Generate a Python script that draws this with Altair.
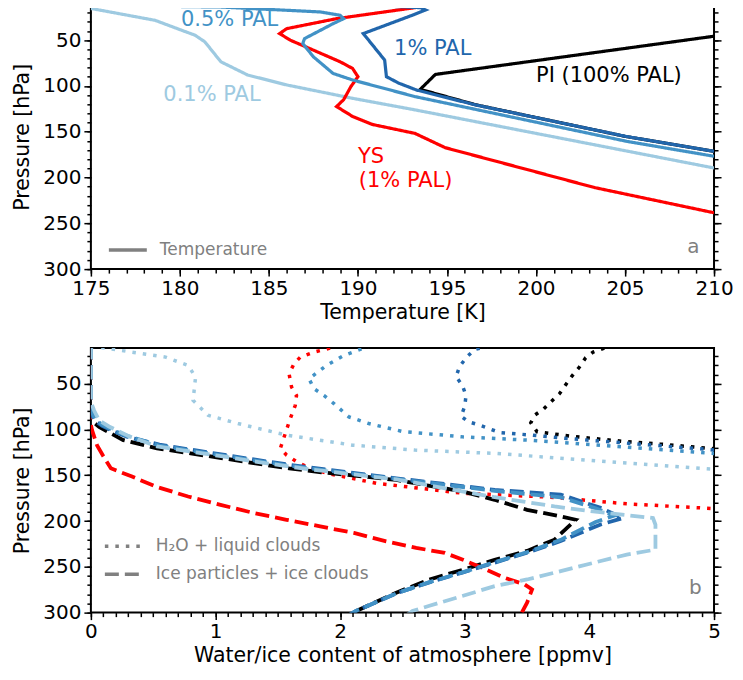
import altair as alt
import pandas as pd

FONT = "DejaVu Sans"
C_PI, C_YS, C_1, C_05, C_01 = "#000000", "#ff0000", "#2166ac", "#4292c6", "#9ecae1"
GRAY = "#808080"

# ---------------- Panel a: temperature profiles ----------------
pi_T = [212.0, 210.0, 194.35, 193.5, 196.6, 205.0, 210.0, 212.0]
pi_P = [42.0, 45.7, 87.4, 103.7, 120.5, 155.0, 171.4, 174.5]

ys_T = [190.5, 193.7, 193.2, 188.8, 186.0, 185.6, 186.2, 187.5, 189.0, 189.7, 190.0,
        189.6, 189.2, 188.8, 189.7, 190.8, 193.2, 194.9, 203.3, 210.0]
ys_P = [11.0, 12.8, 14.5, 26.5, 37.4, 42.8, 50.0, 60.9, 73.6, 80.9, 89.9,
        100.8, 114.9, 122.5, 133.3, 142.0, 151.8, 167.4, 211.0, 238.5]

p1_T = [189.5, 193.5, 193.8, 193.05, 190.3, 191.5, 191.6, 192.3, 193.3, 196.6, 205.05, 210.0]
p1_P = [11.0, 14.5, 17.0, 22.8, 42.8, 71.7, 89.9, 97.0, 104.5, 120.7, 155.1, 171.4]

p05_T = [170.0, 174.9, 182.3, 187.9, 189.0, 189.2, 188.6, 187.0, 186.9, 187.5, 188.6,
         189.7, 193.2, 205.1, 210.0]
p05_P = [11.0, 12.0, 13.8, 19.2, 22.8, 26.5, 32.0, 48.3, 53.7, 68.2, 86.3,
         93.5, 111.6, 160.5, 176.8]

p01_T = [172.5, 175.1, 178.6, 180.85, 181.4, 182.3, 183.8, 186.0, 189.7, 193.2, 210.0]
p01_P = [12.0, 15.7, 28.3, 44.6, 51.8, 73.6, 88.0, 98.9, 113.5, 126.1, 189.6]

ann_text = ["0.5% PAL", "1% PAL", "PI (100% PAL)", "0.1% PAL", "YS", "(1% PAL)"]
ann_T = [180.06, 192.03, 200.0, 179.07, 190.0, 190.05]
ann_P = [28.5, 60.0, 89.5, 109.5, 177.5, 204.0]
ann_col = [C_05, C_1, C_PI, C_01, C_YS, C_YS]

# ---------------- Panel b: water / ice content ----------------
# dotted: H2O + liquid clouds
h2o_pi_x = [4.2, 4.14, 4.03, 3.97, 3.92, 3.86, 3.81, 3.76, 3.69, 3.63, 3.56, 3.53, 3.58,
            3.68, 3.85, 4.03, 4.3, 4.57, 5.0, 5.2]
h2o_pi_p = [8, 10.1, 15.5, 21.7, 31.8, 41.6, 51.1, 60.9, 69.9, 77.9, 84.5, 92.7, 102.5,
            104.3, 107.3, 109.8, 113.4, 116.0, 121.0, 122.5]
h2o_1_x = [3.2, 3.16, 3.08, 3.02, 2.96, 2.93, 2.98, 3.01, 3.0, 2.97, 3.03, 3.12, 3.28,
           3.54, 3.82, 5.0, 5.2]
h2o_1_p = [8, 10.1, 12.7, 20.3, 30.8, 42.1, 51.8, 62.7, 74.7, 85.5, 91.6, 95.3, 103.3,
           106.2, 109.8, 122.3, 124.0]
h2o_05_x = [2.25, 2.21, 2.03, 1.89, 1.75, 1.79, 1.87, 1.95, 2.07, 2.23, 2.5, 2.98, 3.5, 5.0, 5.2]
h2o_05_p = [8, 10.1, 19.2, 30.1, 44.6, 55.4, 62.7, 71.7, 86.2, 93.5, 102.2, 108.0, 111.6, 126.1, 128.0]
h2o_01_x = [0.0, 0.066, 0.33, 0.6, 0.78, 0.84, 0.82, 0.94, 1.18, 1.57, 2.1, 2.6, 3.24, 5.0, 5.2]
h2o_01_p = [9, 10.1, 15.5, 21.0, 30.1, 42.7, 68.2, 84.5, 93.5, 106.2, 117.1, 122.5, 126.1, 143.5, 145.5]
h2o_ys_x = [2.0, 1.95, 1.79, 1.68, 1.63, 1.59, 1.61, 1.65, 1.64, 1.6, 1.56, 1.52, 1.57, 1.65,
            1.73, 1.89, 2.29, 2.98, 3.69, 4.3, 5.0, 5.2]
h2o_ys_p = [8, 10.1, 15.5, 21.0, 28.3, 39.1, 53.6, 62.7, 73.6, 88.0, 104.3, 120.7, 127.9, 135.1,
            140.5, 147.8, 158.7, 169.6, 173.9, 181.2, 186.4, 187.5]

# dashed: ice particles + ice clouds
ice_ys_x = [0.0, 0.0, 0.01, 0.05, 0.1, 0.16, 0.33, 0.52, 0.78, 1.04, 1.31, 1.57, 1.84, 2.11,
            2.37, 2.61, 2.84, 2.98, 3.14, 3.32, 3.48, 3.54, 3.5, 3.45]
ice_ys_p = [8, 95, 101, 117.4, 129.3, 142.4, 151.4, 162.3, 173.2, 182.3, 191.3, 198.6, 205.8, 213.0,
            222.1, 229.3, 234.8, 242.0, 251.1, 262.0, 269.2, 274.7, 289.1, 302]
ice_pi_x = [0.0, 0.0, 0.02, 0.066, 0.16, 0.26, 0.53, 0.8, 1.06, 1.32, 1.59, 1.85, 2.45, 2.98,
            3.24, 3.5, 3.77, 3.89, 3.72, 3.5, 3.24, 2.98, 2.71, 2.45, 2.13, 2.08]
ice_pi_p = [8, 85, 92, 97.1, 104.3, 111.6, 120.6, 126.1, 131.5, 137.0, 142.4, 146.7, 155.1, 167.7,
            176.8, 187.7, 194.9, 198.6, 220.3, 232.6, 242.4, 253.3, 264.1, 278.3, 298.2, 302]
ice_1_x = [0.0, 0.0, 0.03, 0.09, 0.18, 0.3, 0.55, 0.8, 1.06, 1.32, 1.59, 1.85, 2.45, 3.24,
           3.77, 4.09, 4.27, 4.09, 3.77, 3.5, 3.24, 2.98, 2.71, 2.45, 2.13, 2.08]
ice_1_p = [8, 82, 90, 96, 102, 108.5, 116.5, 122, 127.5, 133, 138.5, 143, 153.3, 166.0,
           171.1, 185.6, 196.7, 203.8, 221.8, 234.6, 245.4, 256.3, 267.2, 279, 298, 302]
ice_05_x = [0.0, 0.0, 0.03, 0.09, 0.18, 0.3, 0.55, 0.8, 1.06, 1.32, 1.59, 1.85, 2.45, 3.24,
            3.77, 4.05, 4.2, 4.05, 3.77, 3.5, 3.24, 2.98, 2.71, 2.45, 2.13, 2.08]
ice_05_p = [8, 78, 88, 95, 101, 107.5, 117.5, 123, 128.5, 134, 139.5, 144, 154, 167.0,
            174.0, 186.0, 194.0, 201.0, 220.5, 234.0, 245.0, 256.0, 267.0, 279, 298, 302]
ice_01_x = [0.0, 0.0, 0.026, 0.066, 0.145, 0.3, 0.53, 0.8, 1.06, 1.32, 1.59, 1.85, 2.45, 3.24,
            3.72, 4.03, 4.51, 4.53, 4.53, 4.3, 4.03, 3.77, 3.5, 3.24, 2.98, 2.71, 2.58, 2.54]
ice_01_p = [8, 70, 79.3, 90.2, 96.7, 107, 118.5, 124, 129.5, 135, 140.5, 145, 154.5, 174.0,
            184.0, 189.5, 196.7, 204.0, 231.2, 236.6, 245.7, 254.7, 263.8, 271.0, 281.9, 292.8, 298.2, 302]

# ---------------- helpers ----------------
W, H = 624, 265
P_DOM = [11, 300]
P_MAJOR = [50, 100, 150, 200, 250, 300]
P_MINOR = list(range(20, 301, 10))


def yaxes():
    return [
        alt.Axis(orient="left", values=P_MAJOR, title="Pressure [hPa]", tickSize=7,
                 grid=False, domain=False, titlePadding=10, labelPadding=3),
        alt.Axis(orient="left", values=P_MINOR, labels=False, title=None, tickSize=4,
                 grid=False, domain=False),
        alt.Axis(orient="right", values=P_MAJOR, labels=False, title=None, tickSize=7,
                 grid=False, domain=False),
        alt.Axis(orient="right", values=P_MINOR, labels=False, title=None, tickSize=4,
                 grid=False, domain=False),
    ]


def xaxes(major, minor, title, fmt):
    return [
        alt.Axis(orient="bottom", values=major, title=title, tickSize=7, grid=False,
                 domain=False, labelFlush=False, format=fmt, labelPadding=2, titlePadding=4),
        alt.Axis(orient="bottom", values=minor, labels=False, title=None, tickSize=4,
                 grid=False, domain=False),
        None,
        None,
    ]


def build_panel(series, xscale, xax, dash_scale, legend, texts):
    yscale = alt.Scale(domain=P_DOM, reverse=True, nice=False, zero=False)
    yax = yaxes()
    layers = []
    for i, (xs, ps, col, width, kind) in enumerate(series):
        d = pd.DataFrame({"x": xs, "p": ps, "o": list(range(len(xs))), "kind": [kind] * len(xs)})
        xa = xax[i] if i < 4 else None
        ya = yax[i] if i < 4 else None
        layers.append(
            alt.Chart(d).mark_line(color=col, strokeWidth=width, clip=True).encode(
                x=alt.X("x:Q", scale=xscale, axis=xa),
                y=alt.Y("p:Q", scale=yscale, axis=ya),
                order=alt.Order("o:Q"),
                strokeDash=alt.StrokeDash("kind:N", scale=dash_scale, legend=legend),
            )
        )
    for tdf, props in texts:
        layers.append(
            alt.Chart(tdf).mark_text(**props).encode(
                x=alt.X("x:Q", scale=xscale, axis=None),
                y=alt.Y("p:Q", scale=yscale, axis=None),
                text="t:N",
                color=alt.Color("c:N", scale=None),
            )
        )
    return alt.layer(*layers).resolve_axis(x="independent", y="independent").properties(
        width=W, height=H)


# ---- panel a ----
xscale_a = alt.Scale(domain=[175, 210], nice=False, zero=False)
xax_a = xaxes(list(range(175, 211, 5)), list(range(175, 211)), "Temperature [K]", "d")
dash_a = alt.Scale(domain=["Temperature"], range=[[1, 0]])
leg_a = alt.Legend(orient="none", legendX=16, legendY=225, title=None, symbolType="stroke",
                   symbolSize=1444, symbolStrokeWidth=3.5, symbolStrokeColor=GRAY,
                   labelColor=GRAY, labelFontSize=17, labelFont=FONT, labelOffset=11,
                   padding=0, labelLimit=0)
series_a = [
    (pi_T, pi_P, C_PI, 3.2, "Temperature"),
    (p01_T, p01_P, C_01, 3.2, "Temperature"),
    (ys_T, ys_P, C_YS, 3.2, "Temperature"),
    (p05_T, p05_P, C_05, 3.2, "Temperature"),
    (p1_T, p1_P, C_1, 3.2, "Temperature"),
]
ann_df = pd.DataFrame({"x": ann_T, "p": ann_P, "t": ann_text, "c": ann_col})
lab_a = pd.DataFrame({"x": [208.84], "p": [282.0], "t": ["a"], "c": [GRAY]})
panel_a = build_panel(
    series_a, xscale_a, xax_a, dash_a, leg_a,
    [(ann_df, dict(align="left", baseline="middle", fontSize=21, font=FONT)),
     (lab_a, dict(align="center", baseline="alphabetic", fontSize=20, font=FONT))])

# ---- panel b ----
xscale_b = alt.Scale(domain=[0, 5], nice=False, zero=False)
xax_b = xaxes([0, 1, 2, 3, 4, 5], [round(0.1 * i, 1) for i in range(51)],
              "Water/ice content of atmosphere [ppmv]", "d")
K_H2O = "H\u2082O + liquid clouds"
K_ICE = "Ice particles + ice clouds"
dash_b = alt.Scale(domain=[K_H2O, K_ICE], range=[[3.5, 7], [14, 6]])
leg_b = alt.Legend(orient="none", legendX=12, legendY=179, title=None, symbolType="stroke",
                   symbolSize=1225, symbolStrokeWidth=3.5, symbolStrokeColor=GRAY,
                   labelColor=GRAY, labelFontSize=17, labelFont=FONT, labelOffset=14,
                   padding=0, rowPadding=-11, labelLimit=0)
series_b = [
    (h2o_pi_x, h2o_pi_p, C_PI, 3.5, K_H2O),
    (h2o_ys_x, h2o_ys_p, C_YS, 3.5, K_H2O),
    (h2o_1_x, h2o_1_p, C_1, 3.5, K_H2O),
    (h2o_05_x, h2o_05_p, C_05, 3.5, K_H2O),
    (h2o_01_x, h2o_01_p, C_01, 3.5, K_H2O),
    (ice_pi_x, ice_pi_p, C_PI, 3.8, K_ICE),
    (ice_ys_x, ice_ys_p, C_YS, 3.8, K_ICE),
    (ice_1_x, ice_1_p, C_1, 3.8, K_ICE),
    (ice_05_x, ice_05_p, C_05, 3.8, K_ICE),
    (ice_01_x, ice_01_p, C_01, 3.8, K_ICE),
]
lab_b = pd.DataFrame({"x": [4.85], "p": [280.1], "t": ["b"], "c": [GRAY]})
panel_b = build_panel(
    series_b, xscale_b, xax_b, dash_b, leg_b,
    [(lab_b, dict(align="center", baseline="alphabetic", fontSize=20, font=FONT))])

chart = alt.vconcat(panel_a, panel_b, spacing=23).resolve_scale(
    x="independent", y="independent", strokeDash="independent"
).properties(
    padding={"left": 3, "top": -5, "right": 0, "bottom": 0}
).configure(
    font=FONT
).configure_view(
    stroke="black", strokeWidth=2
).configure_axis(
    labelFont=FONT, titleFont=FONT, labelFontSize=20, titleFontSize=20.5,
    titleFontWeight="normal", labelColor="black", titleColor="black",
    tickColor="black", tickWidth=1.5
)

chart.save("out.html", embed_options={"renderer": "svg", "actions": False})
